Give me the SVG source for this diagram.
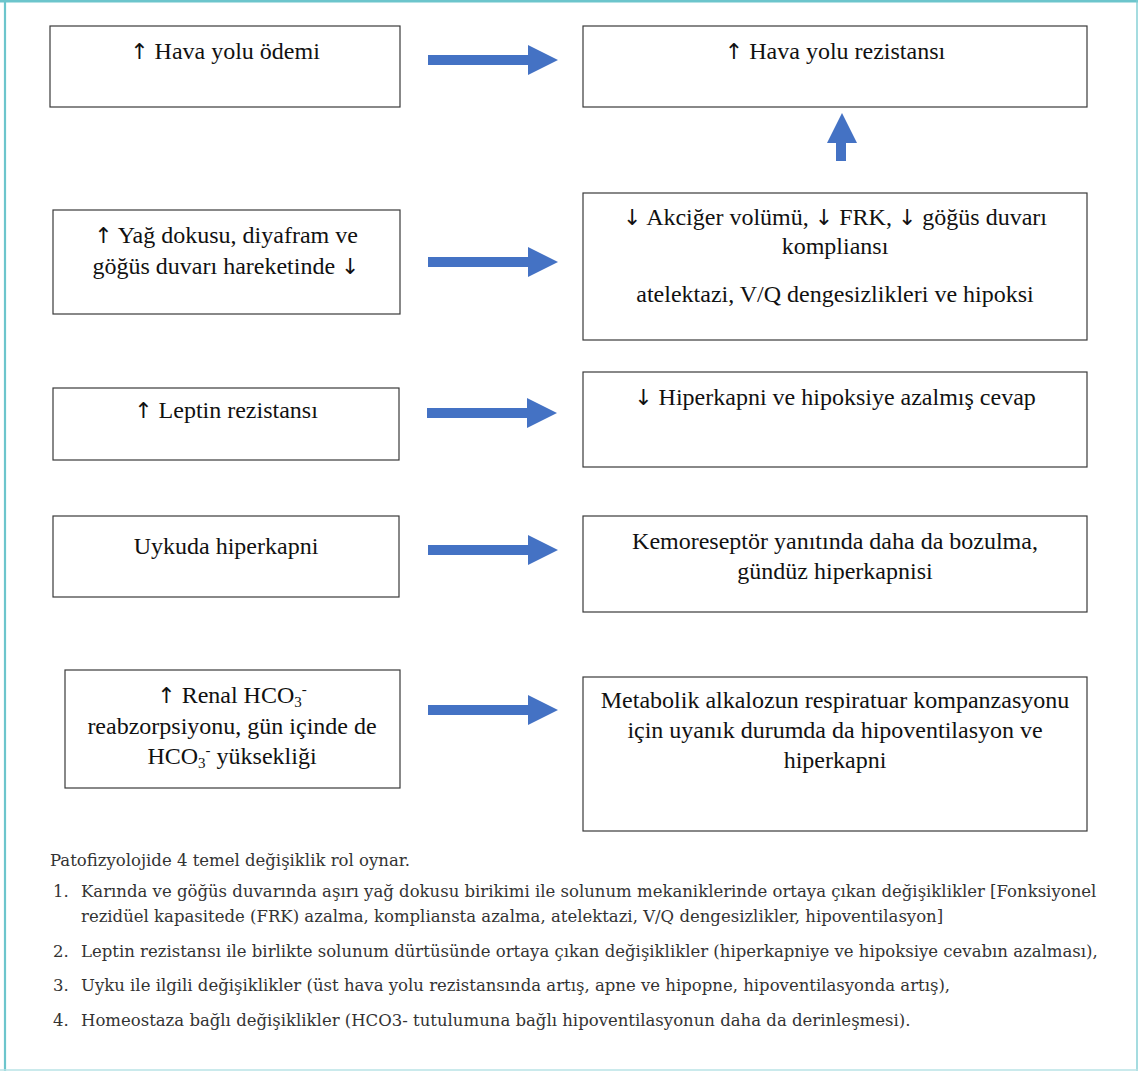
<svg xmlns="http://www.w3.org/2000/svg" width="1138" height="1071" viewBox="0 0 1138 1071">
<style>
.box{fill:#fff;stroke:#3a3a3a;stroke-width:1.2}
.t{font-family:"Liberation Serif","Times New Roman",serif;font-size:24px;fill:#111;text-anchor:middle}
.a{font-family:"DejaVu Sans",sans-serif;font-size:22px;fill:#111}
.n{font-family:"DejaVu Serif",serif;font-size:16.5px;fill:#333}
.arr{fill:#4472c4}
</style>
<rect x="0" y="0" width="1138" height="1071" fill="#fff"/>
<line x1="0" y1="1.2" x2="1138" y2="1.2" stroke="#6cc5cc" stroke-width="2.4"/>
<line x1="5" y1="0" x2="5" y2="1071" stroke="#6cc5cc" stroke-width="2.2"/>
<line x1="1137" y1="0" x2="1137" y2="1071" stroke="#7fcdd3" stroke-width="1.4"/>
<line x1="0" y1="1070" x2="1138" y2="1070" stroke="#b8e3e6" stroke-width="1.4"/>

<g id="n1"><rect class="box" x="50" y="26" width="350" height="81"/><text class="t" x="225" y="59"><tspan class="a">↑</tspan> Hava yolu ödemi</text></g>
<g id="n2"><rect class="box" x="583" y="26" width="504" height="81"/><text class="t" x="835" y="59"><tspan class="a">↑</tspan> Hava yolu rezistansı</text></g>
<g id="n3"><rect class="box" x="53" y="210" width="347" height="104"/><text class="t" x="226" y="243"><tspan class="a">↑</tspan> Yağ dokusu, diyafram ve</text><text class="t" x="226" y="274">göğüs duvarı hareketinde <tspan class="a">↓</tspan></text></g>
<g id="n4"><rect class="box" x="583" y="193" width="504" height="147"/><text class="t" x="835" y="225"><tspan class="a">↓</tspan> Akciğer volümü, <tspan class="a">↓</tspan> FRK, <tspan class="a">↓</tspan> göğüs duvarı</text><text class="t" x="835" y="254">kompliansı</text><text class="t" x="835" y="302">atelektazi, V/Q dengesizlikleri ve hipoksi</text></g>
<g id="n5"><rect class="box" x="53" y="388" width="346" height="72"/><text class="t" x="226" y="418"><tspan class="a">↑</tspan> Leptin rezistansı</text></g>
<g id="n6"><rect class="box" x="583" y="372" width="504" height="95"/><text class="t" x="835" y="405"><tspan class="a">↓</tspan> Hiperkapni ve hipoksiye azalmış cevap</text></g>
<g id="n7"><rect class="box" x="53" y="516" width="346" height="81"/><text class="t" x="226" y="554">Uykuda hiperkapni</text></g>
<g id="n8"><rect class="box" x="583" y="516" width="504" height="96"/><text class="t" x="835" y="549">Kemoreseptör yanıtında daha da bozulma,</text><text class="t" x="835" y="579">gündüz hiperkapnisi</text></g>
<g id="n9"><rect class="box" x="65" y="670" width="335" height="118"/><text class="t" x="232" y="703"><tspan class="a">↑</tspan> Renal HCO<tspan font-size="15" dy="4">3</tspan><tspan font-size="15" dy="-13">-</tspan></text><text class="t" x="232" y="734">reabzorpsiyonu, gün içinde de</text><text class="t" x="232" y="764">HCO<tspan font-size="15" dy="4">3</tspan><tspan font-size="15" dy="-13">-</tspan><tspan dy="9"> yüksekliği</tspan></text></g>
<g id="n10"><rect class="box" x="583" y="677" width="504" height="154"/><text class="t" x="835" y="708">Metabolik alkalozun respiratuar kompanzasyonu</text><text class="t" x="835" y="738">için uyanık durumda da hipoventilasyon ve</text><text class="t" x="835" y="768">hiperkapni</text></g>

<g id="connectors">
<polygon class="arr" points="428,55 528,55 528,45 558,60 528,75 528,65 428,65"/>
<polygon class="arr" points="836,161 836,143 827,143 842,113 857,143 846,143 846,161"/>
<polygon class="arr" points="428,257 528,257 528,247 558,262 528,277 528,267 428,267"/>
<polygon class="arr" points="427,408 527,408 527,398 557,413 527,428 527,418 427,418"/>
<polygon class="arr" points="428,545 528,545 528,535 558,550 528,565 528,555 428,555"/>
<polygon class="arr" points="428,705 528,705 528,695 558,710 528,725 528,715 428,715"/>
</g>

<g id="notes">
<text class="n" x="50" y="866">Patofizyolojide 4 temel değişiklik rol oynar.</text>
<text class="n" x="53" y="897">1.</text><text class="n" x="81" y="897">Karında ve göğüs duvarında aşırı yağ dokusu birikimi ile solunum mekaniklerinde ortaya çıkan değişiklikler [Fonksiyonel</text>
<text class="n" x="81" y="922">rezidüel kapasitede (FRK) azalma, kompliansta azalma, atelektazi, V/Q dengesizlikler, hipoventilasyon]</text>
<text class="n" x="53" y="957">2.</text><text class="n" x="81" y="957">Leptin rezistansı ile birlikte solunum dürtüsünde ortaya çıkan değişiklikler (hiperkapniye ve hipoksiye cevabın azalması),</text>
<text class="n" x="53" y="991">3.</text><text class="n" x="81" y="991">Uyku ile ilgili değişiklikler (üst hava yolu rezistansında artış, apne ve hipopne, hipoventilasyonda artış),</text>
<text class="n" x="53" y="1026">4.</text><text class="n" x="81" y="1026">Homeostaza bağlı değişiklikler (HCO3- tutulumuna bağlı hipoventilasyonun daha da derinleşmesi).</text>
</g>
</svg>
